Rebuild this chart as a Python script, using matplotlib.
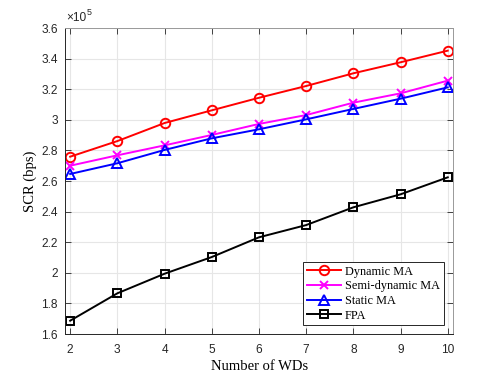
import matplotlib
matplotlib.use("Agg")
import matplotlib.pyplot as plt

wds = [2, 3, 4, 5, 6, 7, 8, 9, 10]
dynamic_ma = [2.759, 2.861, 2.979, 3.062, 3.144, 3.221, 3.304, 3.376, 3.452]
semi_dynamic_ma = [2.700, 2.768, 2.833, 2.901, 2.973, 3.031, 3.112, 3.173, 3.256]
static_ma = [2.646, 2.716, 2.803, 2.879, 2.938, 3.003, 3.071, 3.138, 3.212]
fpa = [1.687, 1.866, 1.994, 2.103, 2.232, 2.312, 2.428, 2.513, 2.624]
yticks = [1.6, 1.8, 2, 2.2, 2.4, 2.6, 2.8, 3, 3.2, 3.4, 3.6]
ytick_labels = ["1.6", "1.8", "2", "2.2", "2.4", "2.6", "2.8", "3", "3.2", "3.4", "3.6"]

fig = plt.figure(figsize=(5.01, 3.76), dpi=100)
ax = fig.add_axes([0.1297, 0.1117, 0.7753, 0.8138])

serif = "Liberation Serif"
sans = "Liberation Sans"

ax.plot(wds, dynamic_ma, color="#ff0000", lw=1.4, marker="o", ms=6.8, mfc="none", mew=1.4, label="Dynamic MA")
ax.plot(wds, semi_dynamic_ma, color="#ff00ff", lw=1.4, marker="x", ms=5.5, mew=1.4, label="Semi-dynamic MA")
ax.plot(wds, static_ma, color="#0000ff", lw=1.4, marker="^", ms=7.2, mfc="none", mew=1.4, label="Static MA")
ax.plot(wds, fpa, color="#000000", lw=1.4, marker="s", ms=5.8, mfc="none", mew=1.4, label="FPA")

ax.set_xlim(1.89, 10.12)
ax.set_ylim(1.6, 3.6)
ax.set_xticks(wds)
ax.set_yticks(yticks)
ax.set_yticklabels(ytick_labels)
for lab in ax.get_xticklabels() + ax.get_yticklabels():
    lab.set_fontfamily(sans)
    lab.set_fontsize(8.6)
    lab.set_color("#262626")

ax.grid(True, color="#e6e6e6", lw=0.8)
ax.set_axisbelow(True)
ax.tick_params(direction="in", top=True, right=True, length=4, width=0.7, color="#404040")
ax.tick_params(axis="x", pad=7)
ax.tick_params(axis="y", pad=5)
for s in ax.spines.values():
    s.set_color("#262626")
    s.set_linewidth(0.7)
for s in ["top", "right"]:
    ax.spines[s].set_color("#999999")

ax.set_xlabel("Number of WDs", fontfamily=serif, fontsize=10.5, labelpad=3)
ax.set_ylabel("SCR (bps)", fontfamily=serif, fontsize=10.5, labelpad=3)

ax.text(0.002, 1.012, "\u00d710", transform=ax.transAxes, fontfamily=sans, fontsize=8.6,
        color="#262626", va="bottom", ha="left")
ax.text(0.056, 1.036, "5", transform=ax.transAxes, fontfamily=sans, fontsize=6.4,
        color="#262626", va="bottom", ha="left")

leg = ax.legend(loc="lower right", bbox_to_anchor=(0.975, 0.028), prop={"family": serif, "size": 8.8},
                frameon=True, fancybox=False, edgecolor="#262626", framealpha=1,
                handlelength=2.8, borderpad=0.3, labelspacing=0.22, handletextpad=0.35,
                borderaxespad=0)
leg.get_frame().set_linewidth(0.7)

fig.savefig("out.png", dpi=100)
